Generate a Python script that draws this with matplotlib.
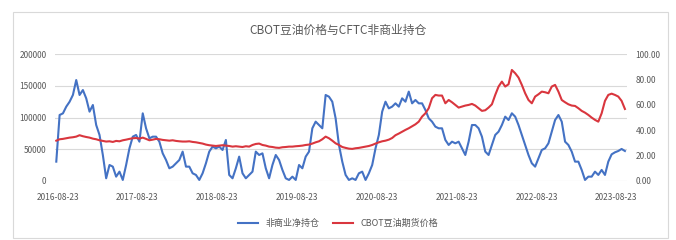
import numpy as np
import pandas as pd
import matplotlib
matplotlib.use('Agg')
import matplotlib.pyplot as plt
import matplotlib.dates as mdates
from matplotlib.ticker import FuncFormatter, MultipleLocator

plt.rcParams['font.family'] = ['Noto Sans CJK SC', 'DejaVu Sans']

# Chart texts
title = 'CBOT豆油价格与CFTC非商业持仓'
net_label = '非商业净持仓'
price_label = 'CBOT豆油期货价格'

# Series: roughly half-monthly readings, first to last date
first_date = '2016-08-17'
last_date = '2023-10-01'

# Non-commercial net position (left axis)
net_position = [
    30500, 104100, 106700, 117300, 125000, 135700, 159300, 135700, 143500, 130400,
    109400, 119900, 88300, 72600, 41000, 4200, 25200, 22600, 6800, 14700,
    1600, 25200, 51500, 69900, 72600, 62000, 106700, 83000, 67300, 69900,
    69900, 62000, 43600, 33100, 20000, 22600, 27900, 33100, 46300, 22600,
    22600, 12100, 9500, 1600, 12100, 27900, 46300, 54200, 51500, 54200,
    48900, 64700, 9500, 4200, 20000, 38400, 12100, 4200, 9500,
    14700, 46300, 41000, 43600, 20000, 4200, 25200, 41000, 33100, 17400,
    4200, 1600, 6800, 1600, 25200, 20000, 38400, 46300, 83100, 93600,
    88300, 83100, 135700, 133000, 125100, 98900, 56800, 30500, 9500, 1600,
    4200, 1600, 12100, 14700, 1600, 12100, 25200, 51500, 72600, 109400,
    125100, 114600, 117300, 122500, 117300, 130400, 125100, 141000, 122500, 127800,
    122500, 122500, 112000, 98900, 93600, 85700, 83100,
    83100, 64700, 56800, 62000, 59400, 62000, 51500, 41000, 62000, 88300,
    88300, 83100, 69900, 46300, 41000, 56800, 72600, 77800, 88300, 101500,
    96200, 106800, 101500, 88300, 72600, 56800, 41000, 27900, 22600, 35800,
    48900, 51500, 59400, 77800, 96200, 104100, 93600, 62000, 56800, 46300,
    30500, 30500, 17400, 1600, 6800, 6800, 14700, 9500, 17400, 9500,
    30500, 42000, 45200, 47300, 50500, 47300,
]

# CBOT soybean oil futures price (right axis)
oil_price = [
    31.8, 32.9, 33.2, 33.7, 34.2, 34.5, 35.0, 36.1, 35.3, 34.7,
    34.2, 33.4, 32.9, 32.1, 31.6, 31.1, 31.3, 30.8, 31.6, 31.3,
    32.1, 32.6, 33.2, 33.7, 33.9, 33.4, 34.2, 33.2, 32.1, 32.6,
    33.2, 32.9, 32.4, 32.1, 31.8, 32.1, 31.6, 31.3, 31.1, 31.1,
    31.3, 30.8, 30.5, 30.0, 29.5, 28.7, 28.2, 27.9, 27.6, 27.9,
    28.2, 27.9, 27.6, 27.1, 27.4, 27.1, 26.8, 27.4, 27.1,
    28.4, 29.2, 29.5, 28.4, 27.9, 27.1, 26.8, 26.3, 26.1, 26.6,
    26.8, 27.1, 27.1, 27.4, 27.6, 27.9, 28.4, 28.7, 29.5, 30.5,
    31.3, 32.9, 35.0, 33.7, 31.8, 29.7, 28.4, 26.8, 26.1, 25.5,
    25.3, 25.8, 26.1, 26.6, 27.1, 27.6, 28.4, 29.5, 30.5, 31.3,
    31.8, 32.6, 33.9, 36.1, 37.4, 38.9, 40.3, 41.6, 43.2, 44.7,
    46.8, 50.8, 53.4, 57.4, 65.3, 67.9, 67.4,
    67.4, 61.3, 63.9, 62.1, 60.0, 57.9, 58.7, 59.5, 60.0, 60.8,
    59.5, 57.4, 55.3, 55.8, 57.9, 60.5, 67.9, 74.5, 78.4, 74.5,
    76.3, 87.6, 85.0, 81.6, 75.8, 69.2, 63.9, 61.3, 66.6, 68.4,
    70.5, 70.0, 69.2, 74.5, 75.8, 70.5, 63.9, 62.1, 60.5, 59.5,
    59.2, 57.4, 55.3, 53.9, 52.1, 50.0, 48.2, 46.8, 53.4, 63.2,
    67.9, 68.9, 67.9, 66.6, 63.2, 56.8,
]

tick_dates = ['2016-08-23', '2017-08-23', '2018-08-23', '2019-08-23',
              '2020-08-23', '2021-08-23', '2022-08-23', '2023-08-23']

dates = pd.date_range(first_date, last_date, periods=len(net_position))

blue = '#4472C4'
red = '#D9363E'
grey_text = '#595959'
grid_col = '#D9D9D9'

fig = plt.figure(figsize=(6.76, 2.40), dpi=100)
fig.patch.set_facecolor('white')

# light frame round the chart
frame = plt.Rectangle((0.019, 0.01), 0.969, 0.94, transform=fig.transFigure,
                      fill=False, edgecolor='#D9D9D9', linewidth=0.8)
fig.patches.append(frame)

ax = fig.add_axes([0.081, 0.246, 0.847, 0.528])
ax2 = ax.twinx()

ax.plot(dates, net_position, color=blue, linewidth=1.5, label=net_label, zorder=3)
ax2.plot(dates, oil_price, color=red, linewidth=1.5, label=price_label, zorder=3)

ax.set_ylim(0, 200000)
ax2.set_ylim(0, 100)
ax.yaxis.set_major_locator(MultipleLocator(50000))
ax2.yaxis.set_major_locator(MultipleLocator(20))
ax2.yaxis.set_major_formatter(FuncFormatter(lambda v, p: f'{v:.2f}'))

ax.set_xlim(pd.Timestamp('2016-08-10'), pd.Timestamp('2023-10-12'))
ax.set_xticks(pd.to_datetime(tick_dates))
ax.xaxis.set_major_formatter(mdates.DateFormatter('%Y-%m-%d'))

ax.grid(axis='y', color=grid_col, linewidth=0.8, zorder=0)
ax.set_axisbelow(True)
for a in (ax, ax2):
    for s in a.spines.values():
        s.set_visible(False)
    a.tick_params(length=0, labelsize=6, colors=grey_text, pad=6)
ax.tick_params(axis='x', pad=9)

fig.text(0.5, 0.875, title, ha='center', va='center', fontsize=8.5, color=grey_text)

handles = ax.get_lines() + ax2.get_lines()
fig.legend(handles, [h.get_label() for h in handles], loc='center',
           bbox_to_anchor=(0.5, 0.07), ncol=2, frameon=False, fontsize=6.5,
           labelcolor=grey_text, handlelength=2.2, columnspacing=1.5)

fig.savefig('out.png', dpi=100)
